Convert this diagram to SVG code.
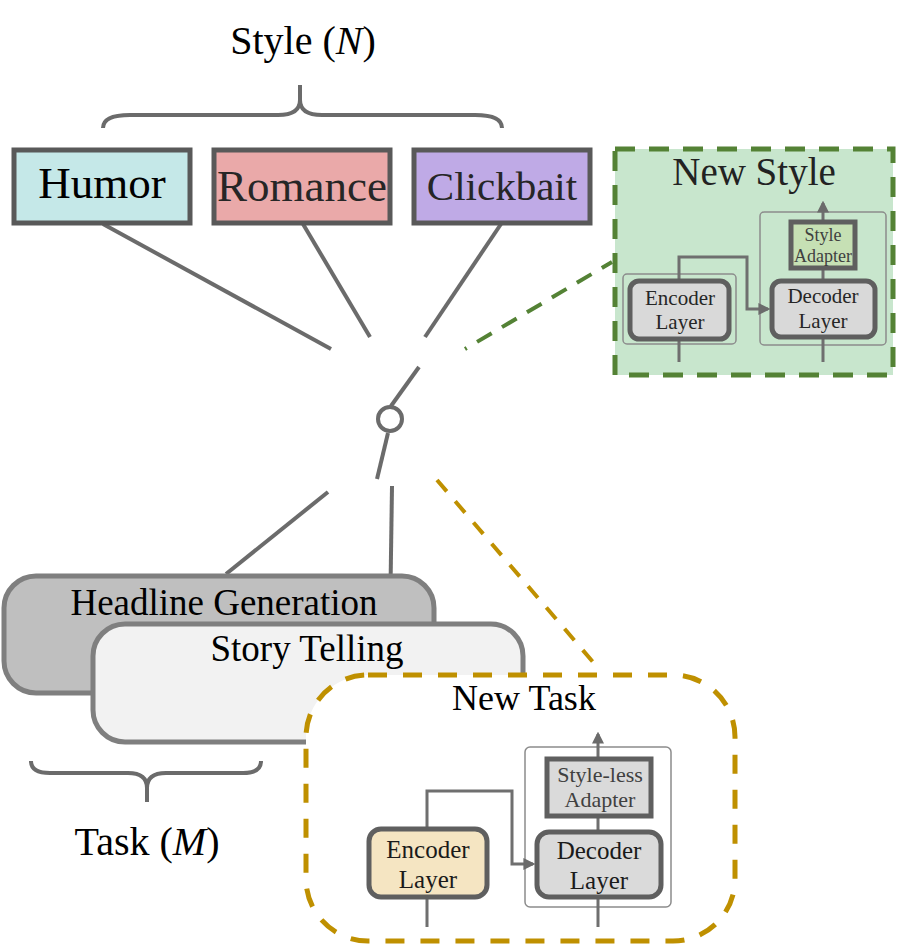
<svg xmlns="http://www.w3.org/2000/svg" width="898" height="946" viewBox="0 0 898 946" font-family="'Liberation Serif', 'DejaVu Serif', serif">
<defs>
<marker id="ah" viewBox="0 0 10 10" refX="8" refY="5" markerWidth="4" markerHeight="4" orient="auto" markerUnits="strokeWidth"><path d="M0,0 L10,5 L0,10 z" fill="#6b6b6b"/></marker>
<style>
text{text-anchor:middle}
.conn{stroke:#6b6b6b;stroke-width:4;fill:none}
.brace{stroke:#6b6b6b;stroke-width:4;fill:none}
.sbox{stroke:#595959;stroke-width:5}
.inner{stroke:#6f6f6f;stroke-width:3;fill:none}
.thin{stroke:#8c8c8c;stroke-width:1.5;fill:none}
.ibox{stroke:#5f5f5f;stroke-width:5}
</style>
</defs>
<rect width="898" height="946" fill="#fff"/>

<g id="style-label">
<text x="303" y="54" font-size="40" fill="#000">Style (<tspan font-style="italic">N</tspan>)</text>
<path class="brace" d="M103,128 Q103,115 130,115 L278,115 Q300,115 300,100 L300,85 M300,100 Q300,115 322,115 L475,115 Q502,115 502,128"/>
</g>

<g id="connectors">
<line class="conn" x1="103" y1="224" x2="331" y2="349"/>
<line class="conn" x1="303" y1="224" x2="370" y2="337"/>
<line class="conn" x1="501" y1="224" x2="425" y2="337"/>
<line class="conn" x1="419" y1="367" x2="391" y2="406"/>
<line class="conn" x1="388" y1="433" x2="377" y2="479"/>
<line class="conn" x1="328" y1="492" x2="226" y2="574"/>
<line class="conn" x1="392" y1="486" x2="390" y2="622"/>
<line x1="465" y1="349" x2="612" y2="262" stroke="#548235" stroke-width="4" stroke-dasharray="2 12 17 12 17 12 17 12 17 12 17 12 17"/>
<line x1="437" y1="480" x2="593" y2="662" stroke="#bf9000" stroke-width="4" stroke-dasharray="15 13"/>
</g>

<g id="switch">
<circle cx="390" cy="419" r="12" fill="#fff" stroke="#6b6b6b" stroke-width="4"/>
</g>

<g id="humor">
<rect class="sbox" x="14" y="150" width="176" height="73" fill="#c5e8e8"/>
<text x="102" y="198" font-size="45" fill="#000">Humor</text>
</g>
<g id="romance">
<rect class="sbox" x="214" y="150" width="176" height="73" fill="#eaa9a9"/>
<text x="302" y="201" font-size="45" fill="#262626">Romance</text>
</g>
<g id="clickbait">
<rect class="sbox" x="414" y="150" width="176" height="73" fill="#bfaae6"/>
<text x="502" y="200" font-size="41" fill="#262626">Clickbait</text>
</g>

<g id="new-style">
<rect x="615" y="149" width="278" height="226" fill="#c8e6cd" stroke="#548235" stroke-width="5" stroke-dasharray="20 14"/>
<text x="754" y="185" font-size="39" fill="#222">New Style</text>
<rect class="thin" x="760" y="212" width="126" height="133" rx="4"/>
<rect class="thin" x="623" y="274" width="113" height="70" rx="4"/>
<line class="inner" x1="823" y1="362" x2="823" y2="203" marker-end="url(#ah)"/>
<polyline class="inner" points="679,362 679,257 747,257 747,309 768,309" marker-end="url(#ah)"/>
<g id="ns-encoder">
<rect class="ibox" x="630" y="281" width="99" height="58" rx="9" fill="#d9d9d9" stroke-width="4.5"/>
<text x="680" y="305" font-size="21" fill="#262626">Encoder</text>
<text x="680" y="329" font-size="21" fill="#262626">Layer</text>
</g>
<g id="ns-decoder">
<rect class="ibox" x="772" y="281" width="103" height="56" rx="9" fill="#d9d9d9" stroke-width="4.5"/>
<text x="823" y="303" font-size="21" fill="#262626">Decoder</text>
<text x="823" y="328" font-size="21" fill="#262626">Layer</text>
</g>
<g id="ns-adapter">
<rect class="ibox" x="791" y="222" width="64" height="46" fill="#c6e0b4" stroke-width="4"/>
<text x="823" y="241" font-size="18" fill="#404040">Style</text>
<text x="823" y="262" font-size="18" fill="#404040">Adapter</text>
</g>
</g>

<g id="headline">
<rect x="4" y="576" width="430" height="117" rx="32" fill="#bfbfbf" stroke="#7f7f7f" stroke-width="5"/>
<text x="224" y="615" font-size="37" fill="#000">Headline Generation</text>
</g>
<g id="story">
<rect x="93" y="624" width="430" height="118" rx="32" fill="#f2f2f2" stroke="#7f7f7f" stroke-width="5"/>
<text x="307" y="661" font-size="37" fill="#000">Story Telling</text>
</g>

<g id="task-label">
<path class="brace" d="M31,761 Q31,773 50,773 L128,773 Q147,773 147,788 L147,802 M147,788 Q147,773 166,773 L243,773 Q261,773 261,761"/>
<text x="147" y="855" font-size="40" fill="#000">Task (<tspan font-style="italic">M</tspan>)</text>
</g>

<g id="new-task">
<rect x="306" y="675" width="429" height="266" rx="62" fill="#fff" stroke="#bf9000" stroke-width="5" stroke-dasharray="19 16"/>
<text x="524" y="710" font-size="36" fill="#000">New Task</text>
<rect class="thin" x="525" y="747" width="146" height="160" rx="5"/>
<line class="inner" x1="598" y1="927" x2="598" y2="734" marker-end="url(#ah)"/>
<polyline class="inner" points="427,927 427,791 512,791 512,864 533,864" marker-end="url(#ah)"/>
<g id="nt-encoder">
<rect class="ibox" x="369" y="829" width="118" height="68" rx="12" fill="#f5e5c2"/>
<text x="428" y="858" font-size="25" fill="#1a1a1a">Encoder</text>
<text x="428" y="888" font-size="25" fill="#1a1a1a">Layer</text>
</g>
<g id="nt-decoder">
<rect class="ibox" x="537" y="832" width="124" height="65" rx="12" fill="#dadada"/>
<text x="599" y="859" font-size="25" fill="#1a1a1a">Decoder</text>
<text x="599" y="889" font-size="25" fill="#1a1a1a">Layer</text>
</g>
<g id="nt-adapter">
<rect class="ibox" x="547" y="759" width="104" height="57" fill="#dadada"/>
<text x="600" y="782" font-size="22" fill="#404040">Style-less</text>
<text x="600" y="807" font-size="22" fill="#404040">Adapter</text>
</g>
</g>
</svg>
